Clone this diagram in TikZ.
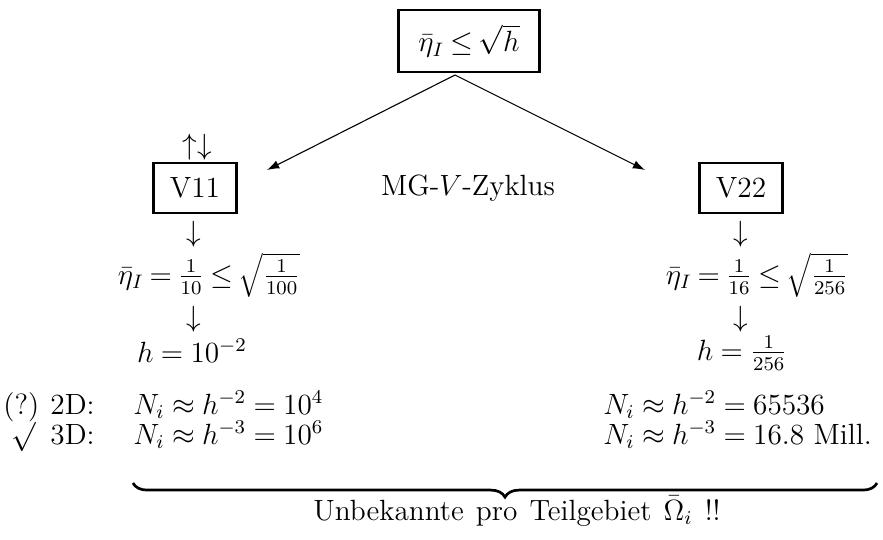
\documentclass[tikz,border=0pt]{standalone}
\usetikzlibrary{decorations.pathreplacing,arrows.meta}
\newcommand{\normsp}{\thickmuskip=4.5mu plus 2mu\relax}
\newcommand{\tightsp}{\thickmuskip=3.6mu plus 2mu\relax}
\begin{document}
\begin{tikzpicture}[x={(0.41pt,0)},y={(0,-0.41pt)},
  every node/.style={font=\large,inner sep=0pt,execute at begin node=\normsp},
  boxed/.style={draw,line width=1.1pt,inner xsep=6pt,inner ysep=5pt},
  tight/.style={execute at begin node=\tightsp},
  conn/.style={line width=0.45pt,-{Latex[length=5pt,width=3.5pt]}},
  brc/.style={decorate,decoration={brace,mirror,amplitude=5.8pt},line width=1.1pt}]
\useasboundingbox (0,0) rectangle (883,539);
% top box
\node[boxed,tight,minimum width=57.8pt,minimum height=25.4pt] (top) at (469,41) {$\bar\eta_I \le \sqrt{h}$};
\coordinate (apex) at (455,75);
\coordinate (lend) at (267,170);
\coordinate (rend) at (645,170);
\draw[conn] (apex) -- (lend);
\draw[conn] (apex) -- (rend);
% left column
\node[boxed,minimum width=34pt,minimum height=20.5pt] (v11) at (195,188) {V11};
\node (ud) at (197,147) {$\uparrow\downarrow$};
\node (mg) at (468,188) {MG-$V$-Zyklus};
\node (la1) at (194,234) {$\downarrow$};
\node[tight,anchor=base] (leta) at (209,284) {$\bar\eta_I = \frac{1}{10} \le \sqrt{\frac{1}{100}}$};
\node (la2) at (194,319) {$\downarrow$};
\node[anchor=base] (lh) at (192,362) {$h = 10^{-2}$};
% right column
\node[boxed,minimum width=34pt,minimum height=20.5pt] (v22) at (741,188) {V22};
\node (ra1) at (741,234) {$\downarrow$};
\node[tight,anchor=base] (reta) at (757,284) {$\bar\eta_I = \frac{1}{16} \le \sqrt{\frac{1}{256}}$};
\node (ra2) at (741,319) {$\downarrow$};
\node[anchor=base] (rh) at (742,360) {$h = \frac{1}{256}$};
% bottom rows
\node[anchor=base west] (q) at (3,414) {(?)};
\node[anchor=base west] (d2) at (50,414) {2D:};
\node[anchor=base west] (n2) at (133,414) {$N_i \approx h^{-2} = 10^4$};
\node[anchor=base west] (ck) at (11,444) {$\surd$};
\node[anchor=base west] (d3) at (50,444) {3D:};
\node[anchor=base west] (n3) at (133,444) {$N_i \approx h^{-3} = 10^6$};
\node[anchor=base west] (m2) at (603,414) {$N_i \approx h^{-2} = 65536$};
\node[anchor=base west] (m3) at (603,444) {$N_i \approx h^{-3} = 16.8$ Mill.};
\coordinate (bl) at (133,483);
\coordinate (br) at (877,483);
\draw[brc] (bl) -- (br);
\node[anchor=base] (unb) at (517,520) {\spaceskip=5pt plus 1pt minus 1pt Unbekannte pro Teilgebiet $\bar\Omega_i$ !!};
\end{tikzpicture}
\end{document}
